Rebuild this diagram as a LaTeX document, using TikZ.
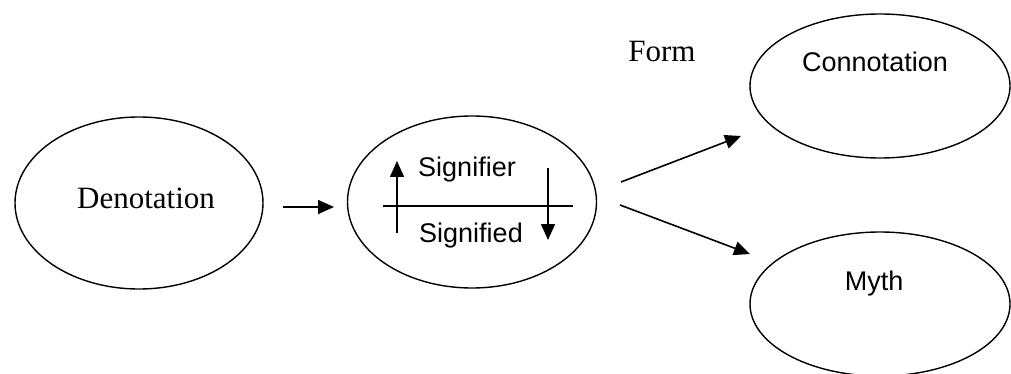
\documentclass[tikz,border=0pt]{standalone}
\usepackage{fontspec}
\setmainfont{Liberation Serif}
\newfontfamily\labelsans{Liberation Sans}
\usetikzlibrary{shapes.geometric,arrows.meta}

\tikzset{
  oval/.style={draw, ellipse, line width=1.4pt, inner sep=0pt},
  serifword/.style={font=\fontsize{31}{36}\selectfont, anchor=base, inner sep=0pt},
  sansword/.style={font=\labelsans\fontsize{27}{32}\selectfont, anchor=base, inner sep=0pt},
  flow/.style={line width=1.6pt, -{Triangle[length=16pt,width=14pt]}},
  divider/.style={line width=1.4pt}
}

\begin{document}
\begin{tikzpicture}[x=1pt,y=-1pt]
  \useasboundingbox (0,0) rectangle (1011,374);

  % ovals
  \node[oval, minimum width=248pt, minimum height=172pt] (deno) at (139,203) {};
  \node[oval, minimum width=249pt, minimum height=172pt] (sign) at (472,202) {};
  \node[oval, minimum width=260pt, minimum height=144pt] (conno) at (880,86) {};
  \node[oval, minimum width=260pt, minimum height=144pt] (myth) at (880,304) {};

  % labels
  \node[serifword] (denotext) at (146,208) {Denotation};
  \node[serifword] (formtext) at (662,62) {Form};
  \node[sansword] (connotext) at (875,72) {Connotation};
  \node[sansword] (mythtext) at (874,290) {Myth};
  \node[sansword] (signifier) at (467,177) {Signifier};
  \node[sansword] (signified) at (471,242) {Signified};

  % bar between signifier and signified, with the two vertical arrows
  \coordinate (barL) at (383,206);
  \coordinate (barR) at (573,206);
  \draw[divider] (barL) -- (barR);
  \coordinate (upA) at (397,233);
  \coordinate (upB) at (397,161);
  \draw[flow] (upA) -- (upB);
  \coordinate (dnA) at (548,168);
  \coordinate (dnB) at (548,240);
  \draw[flow] (dnA) -- (dnB);

  % connectors between the ovals
  \coordinate (a1) at (283,207);
  \coordinate (a2) at (334,207);
  \draw[flow] (a1) -- (a2);
  \coordinate (b1) at (621,182);
  \coordinate (b2) at (741,136);
  \draw[flow] (b1) -- (b2);
  \coordinate (c1) at (620,205);
  \coordinate (c2) at (750,254);
  \draw[flow] (c1) -- (c2);
\end{tikzpicture}
\end{document}
